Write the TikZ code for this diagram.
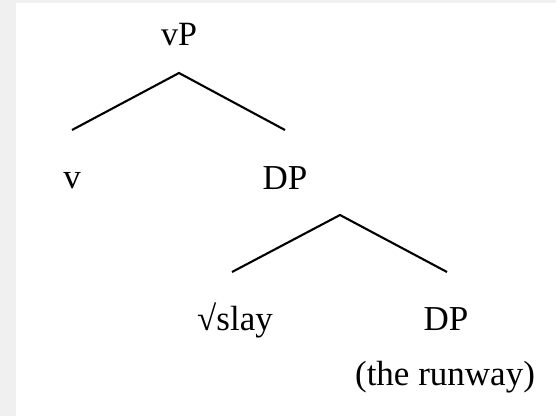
\documentclass[tikz,border=0pt]{standalone}
\usepackage{fontspec}
\setmainfont{Liberation Serif}
\begin{document}
\begin{tikzpicture}[x=1pt,y=-1pt,
  lbl/.style={anchor=base,inner sep=0pt,font=\fontsize{35}{40}\selectfont},
  branch/.style={line width=2.1pt,draw=black}]
\useasboundingbox (0,0) rectangle (556,416);
\fill[black!6] (0,0) rectangle (556,416);
\fill[white] (16,3) rectangle (556,416);
% labels
\node[lbl,font=\fontsize{34}{39}\selectfont] (vP) at (179,45) {vP};
\node[lbl] (v) at (72,188) {v};
\node[lbl] (DP1) at (285,189) {DP};
\node[lbl] (slay) at (235,330) {√slay};
\node[lbl] (DP2) at (446,330) {DP};
\node[lbl] (rw) at (445,385) {(the runway)};
% branch points
\coordinate (t1) at (179,73);
\coordinate (l1) at (72,130);
\coordinate (r1) at (285,130);
\coordinate (t2) at (340,215);
\coordinate (l2) at (232,272);
\coordinate (r2) at (447,272);
\draw[branch] (l1) -- (t1) -- (r1);
\draw[branch] (l2) -- (t2) -- (r2);
\end{tikzpicture}
\end{document}
